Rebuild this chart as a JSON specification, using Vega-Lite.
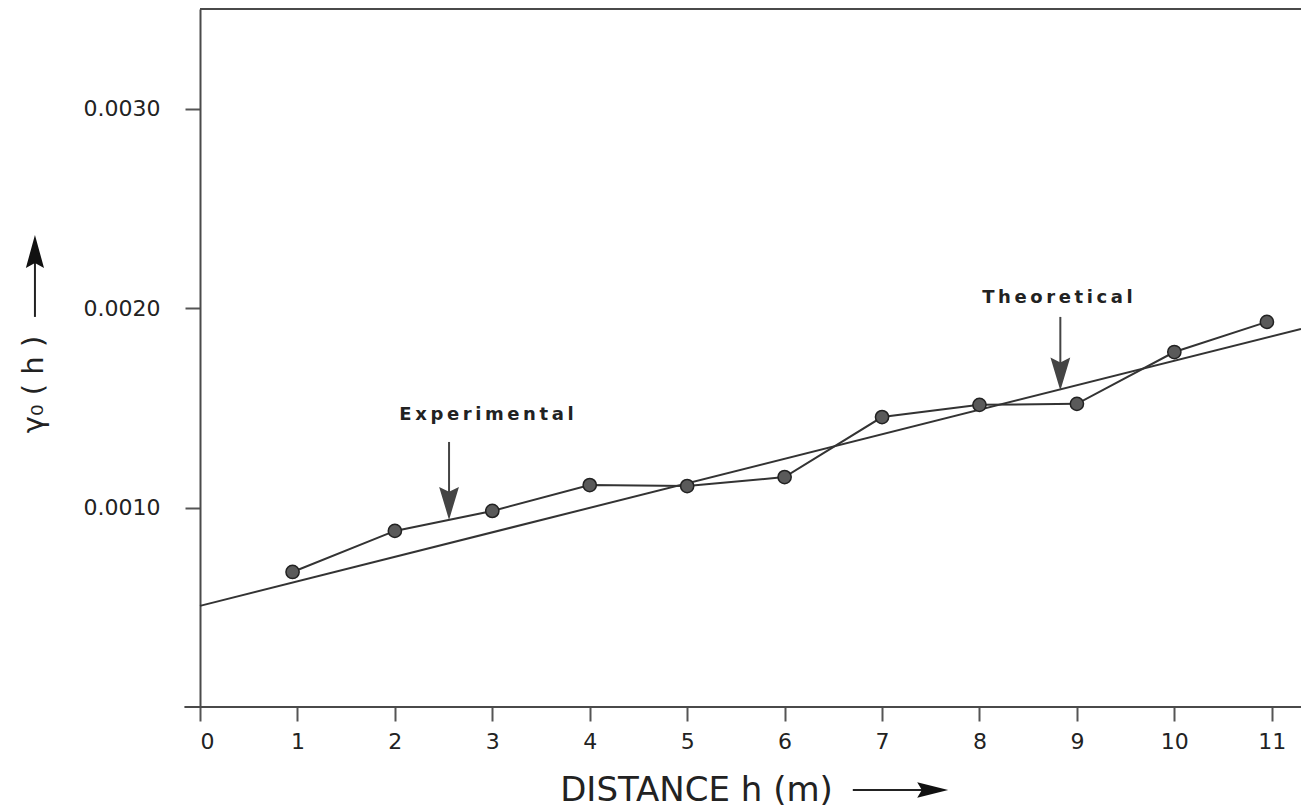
{
  "$schema": "https://vega.github.io/schema/vega-lite/v6.json",
  "width": 1101,
  "height": 698,
  "autosize": {"type": "none"},
  "padding": {"left": 200, "top": 9, "right": 0, "bottom": 105},
  "background": "white",
  "config": {
    "view": {"stroke": null},
    "font": "DejaVu Sans"
  },
  "datasets": {
    "experimental": [
      {"h": 0.95, "g": 0.000677},
      {"h": 2, "g": 0.000883},
      {"h": 3, "g": 0.000983},
      {"h": 4, "g": 0.001113},
      {"h": 5, "g": 0.001108},
      {"h": 6, "g": 0.001153},
      {"h": 7, "g": 0.001454},
      {"h": 8, "g": 0.001515},
      {"h": 9, "g": 0.00152},
      {"h": 10, "g": 0.00178},
      {"h": 10.95, "g": 0.001931}
    ],
    "theoretical": [
      {"h": 0, "g": 0.000507},
      {"h": 11.3, "g": 0.001896}
    ],
    "labels": [
      {"h": 2.94, "g": 0.001464, "text": "E\u2009x\u2009p\u2009e\u2009r\u2009i\u2009m\u2009e\u2009n\u2009t\u2009a\u2009l"},
      {"h": 8.8, "g": 0.002051, "text": "T\u2009h\u2009e\u2009o\u2009r\u2009e\u2009t\u2009i\u2009c\u2009a\u2009l"}
    ],
    "pointers": [
      {"h": 2.556, "g": 0.001329, "g2": 0.00105, "gh": 0.001021},
      {"h": 8.83, "g": 0.001956, "g2": 0.0017, "gh": 0.00167}
    ],
    "xarrow": [{"h": 6.7, "h2": 7.45, "g": -0.000416, "hh": 7.52}],
    "yarrow": [{"h": -1.694, "g": 0.001956, "g2": 0.00224, "gh": 0.002284}],
    "frame": [
      {"h": -0.16, "h2": 11.3, "g": 0},
      {"h": 0, "h2": 11.3, "g": 0.0035}
    ]
  },
  "layer": [
    {
      "data": {"name": "theoretical"},
      "mark": {"type": "line", "color": "#333333", "strokeWidth": 2},
      "encoding": {
        "x": {
          "field": "h", "type": "quantitative",
          "scale": {"domain": [0, 11.3], "nice": false, "zero": false},
          "axis": {
            "title": "DISTANCE h (m)",
            "values": [0, 1, 2, 3, 4, 5, 6, 7, 8, 9, 10, 11],
            "format": "d",
            "domain": false,
            "grid": false,
            "ticks": true,
            "tickSize": 14,
            "tickWidth": 2,
            "tickColor": "#555555",
            "labelPadding": 10,
            "labelFontSize": 22,
            "labelColor": "#222222",
            "titleFontSize": 34,
            "titleFontWeight": "normal",
            "titleColor": "#222222",
            "titleX": 496,
            "titleY": 83,
            "titleAlign": "center",
            "titleBaseline": "middle"
          }
        },
        "y": {
          "field": "g", "type": "quantitative",
          "scale": {"domain": [0, 0.0035], "nice": false},
          "axis": {
            "title": "γ₀ ( h )",
            "values": [0.001, 0.002, 0.003],
            "format": ".4f",
            "domain": true,
            "domainColor": "#4a4a4a",
            "domainWidth": 2,
            "grid": false,
            "tickSize": 15,
            "tickWidth": 2,
            "tickColor": "#555555",
            "labelPadding": 25,
            "labelFontSize": 22,
            "labelColor": "#222222",
            "titleFontSize": 29,
            "titleFontWeight": "normal",
            "titleColor": "#222222",
            "titleAngle": 270,
            "titleX": -167,
            "titleY": 375,
            "titleAlign": "center",
            "titleBaseline": "middle"
          }
        }
      }
    },
    {
      "data": {"name": "frame"},
      "mark": {"type": "rule", "color": "#4a4a4a", "strokeWidth": 2},
      "encoding": {
        "x": {"field": "h", "type": "quantitative"},
        "x2": {"field": "h2"},
        "y": {"field": "g", "type": "quantitative"}
      }
    },
    {
      "data": {"name": "experimental"},
      "mark": {"type": "line", "color": "#333333", "strokeWidth": 2},
      "encoding": {
        "x": {"field": "h", "type": "quantitative"},
        "y": {"field": "g", "type": "quantitative"}
      }
    },
    {
      "data": {"name": "experimental"},
      "mark": {"type": "point", "shape": "circle", "filled": true, "size": 175, "fill": "#5a5a5a", "stroke": "#222222", "strokeWidth": 1.5, "opacity": 1},
      "encoding": {
        "x": {"field": "h", "type": "quantitative"},
        "y": {"field": "g", "type": "quantitative"}
      }
    },
    {
      "data": {"name": "pointers"},
      "mark": {"type": "rule", "color": "#444444", "strokeWidth": 2},
      "encoding": {
        "x": {"field": "h", "type": "quantitative"},
        "y": {"field": "g", "type": "quantitative"},
        "y2": {"field": "g2"}
      }
    },
    {
      "data": {"name": "pointers"},
      "mark": {"type": "point", "shape": "M 0 1 L -0.6 -1 L 0 -0.7 L 0.6 -1 Z", "filled": true, "size": 1089, "color": "#444444", "opacity": 1},
      "encoding": {
        "x": {"field": "h", "type": "quantitative"},
        "y": {"field": "gh", "type": "quantitative"}
      }
    },
    {
      "data": {"name": "labels"},
      "mark": {"type": "text", "fontSize": 18, "fontWeight": "bold", "color": "#222222", "align": "center", "baseline": "middle"},
      "encoding": {
        "x": {"field": "h", "type": "quantitative"},
        "y": {"field": "g", "type": "quantitative"},
        "text": {"field": "text"}
      }
    },
    {
      "data": {"name": "xarrow"},
      "mark": {"type": "rule", "color": "#222222", "strokeWidth": 2},
      "encoding": {
        "x": {"field": "h", "type": "quantitative"},
        "x2": {"field": "h2"},
        "y": {"field": "g", "type": "quantitative"}
      }
    },
    {
      "data": {"name": "xarrow"},
      "mark": {"type": "point", "shape": "M 1 0 L -1 -0.5 L -0.7 0 L -1 0.5 Z", "filled": true, "size": 961, "color": "#111111", "opacity": 1},
      "encoding": {
        "x": {"field": "hh", "type": "quantitative"},
        "y": {"field": "g", "type": "quantitative"}
      }
    },
    {
      "data": {"name": "yarrow"},
      "mark": {"type": "rule", "color": "#222222", "strokeWidth": 2},
      "encoding": {
        "x": {"field": "h", "type": "quantitative"},
        "y": {"field": "g", "type": "quantitative"},
        "y2": {"field": "g2"}
      }
    },
    {
      "data": {"name": "yarrow"},
      "mark": {"type": "point", "shape": "M 0 -1 L -0.55 1 L 0 0.7 L 0.55 1 Z", "filled": true, "size": 1089, "color": "#111111", "opacity": 1},
      "encoding": {
        "x": {"field": "h", "type": "quantitative"},
        "y": {"field": "gh", "type": "quantitative"}
      }
    }
  ]
}
